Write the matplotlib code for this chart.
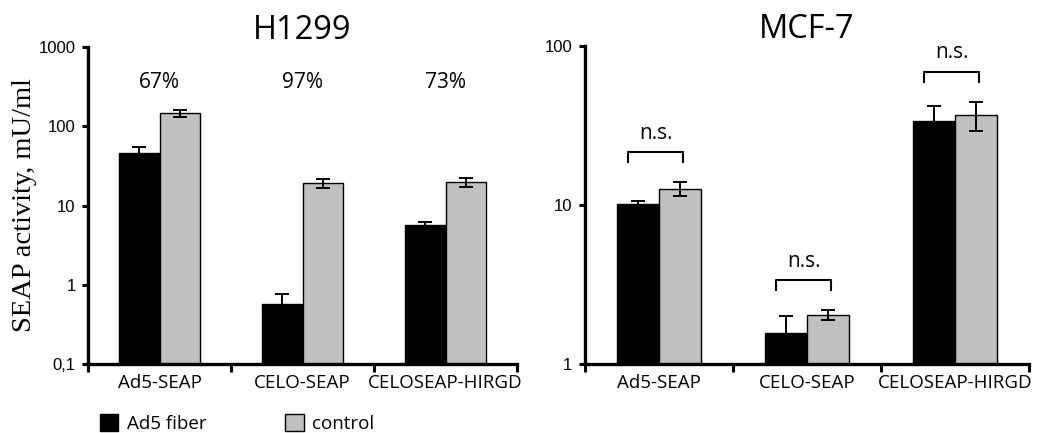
import matplotlib
matplotlib.use("Agg")
import matplotlib.pyplot as plt
import numpy as np
from matplotlib.patches import Patch

plt.rcParams['font.family'] = ['Open Sans', 'DejaVu Sans']

categories = ["Ad5-SEAP", "CELO-SEAP", "CELOSEAP-HIRGD"]
series_names = ["Ad5 fiber", "control"]

h1299_fiber = [45.6, 0.57, 5.7]
h1299_fiber_err = [8.5, 0.19, 0.45]
h1299_control = [146, 19.1, 19.8]
h1299_control_err = [14, 2.6, 2.7]
h1299_pct = ["67%", "97%", "73%"]

mcf7_fiber = [10.1, 1.56, 33.9]
mcf7_fiber_err = [0.5, 0.44, 8.2]
mcf7_control = [12.6, 2.03, 36.8]
mcf7_control_err = [1.25, 0.14, 7.6]
mcf7_sig = ["n.s.", "n.s.", "n.s."]

black = "#000000"
gray = "#c0c0c0"

fig = plt.figure(figsize=(10.37, 4.33), dpi=100)
ax1 = fig.add_axes([0.0849, 0.1594, 0.4137, 0.732])
ax2 = fig.add_axes([0.5641, 0.1594, 0.4282, 0.7344])

x = np.arange(len(categories))
bw = 0.285

def style(ax, ylim, yticks, yticklabels):
    ax.set_yscale('log')
    ax.set_ylim(*ylim)
    ax.set_xlim(-0.5, len(categories) - 0.5)
    ax.set_yticks(yticks)
    ax.set_yticklabels(yticklabels, family=['Liberation Sans'])
    ax.yaxis.set_minor_locator(matplotlib.ticker.NullLocator())
    ax.set_xticks(np.arange(len(categories) + 1) - 0.5)
    ax.set_xticklabels([])
    ax.set_xticks(x, minor=True)
    ax.set_xticklabels(categories, minor=True)
    ax.tick_params(axis='x', which='minor', length=0, labelsize=13.5, pad=7)
    ax.tick_params(axis='x', which='major', length=6, width=2.2, direction='out')
    ax.tick_params(axis='y', which='major', length=4, width=2.2, direction='out',
                   labelsize=12, pad=5)
    for s in ['top', 'right']:
        ax.spines[s].set_visible(False)
    for s in ['left', 'bottom']:
        ax.spines[s].set_linewidth(2.4)
    ax.set_facecolor('white')

ekw = dict(ecolor='black', elinewidth=1.4, capsize=5, capthick=1.4)

for ax, fib, fibe, con, cone in [
    (ax1, h1299_fiber, h1299_fiber_err, h1299_control, h1299_control_err),
    (ax2, mcf7_fiber, mcf7_fiber_err, mcf7_control, mcf7_control_err),
]:
    ax.bar(x - bw / 2, fib, bw, color=black, edgecolor='black', linewidth=1,
           yerr=fibe, error_kw=ekw, zorder=2, label=series_names[0])
    ax.bar(x + bw / 2, con, bw, color=gray, edgecolor='black', linewidth=1,
           yerr=cone, error_kw=ekw, zorder=2, label=series_names[1])

style(ax1, (0.1, 1000), [0.1, 1, 10, 100, 1000], ["0,1", "1", "10", "100", "1000"])
style(ax2, (1, 100), [1, 10, 100], ["1", "10", "100"])

ax1.set_title("H1299", fontsize=23.5, pad=4)
ax2.set_title("MCF-7", fontsize=23.5, pad=4)

ax1.set_ylabel("SEAP activity, mU/ml", family=['Liberation Serif'], fontsize=20.5, labelpad=1)

for i, t in enumerate(h1299_pct):
    ax1.text(x[i], 0.887, t, transform=ax1.get_xaxis_transform(), ha='center',
             va='center', fontsize=15)

for i, t in enumerate(mcf7_sig):
    top = max(mcf7_fiber[i] + mcf7_fiber_err[i], mcf7_control[i] + mcf7_control_err[i])
    yb = top * 1.55
    yl = yb * 0.865
    x0, x1 = x[i] - 0.21, x[i] + 0.165
    ax2.plot([x0, x0, x1, x1], [yl, yb, yb, yl], color='black', lw=1.5)
    ax2.text((x0 + x1) / 2, yb * 1.13, t, ha='center', va='bottom', fontsize=15)

handles = [Patch(facecolor=black, edgecolor='black', label=series_names[0]),
           Patch(facecolor=gray, edgecolor='black', label=series_names[1])]
fig.legend(handles=handles, loc='center left', bbox_to_anchor=(0.096, 0.022),
           ncol=2, frameon=False, fontsize=13.5, handlelength=1.0, handleheight=1.0,
           handletextpad=0.45, columnspacing=4.2, borderaxespad=0, borderpad=0)

fig.savefig("out.png", dpi=100, facecolor='white')
